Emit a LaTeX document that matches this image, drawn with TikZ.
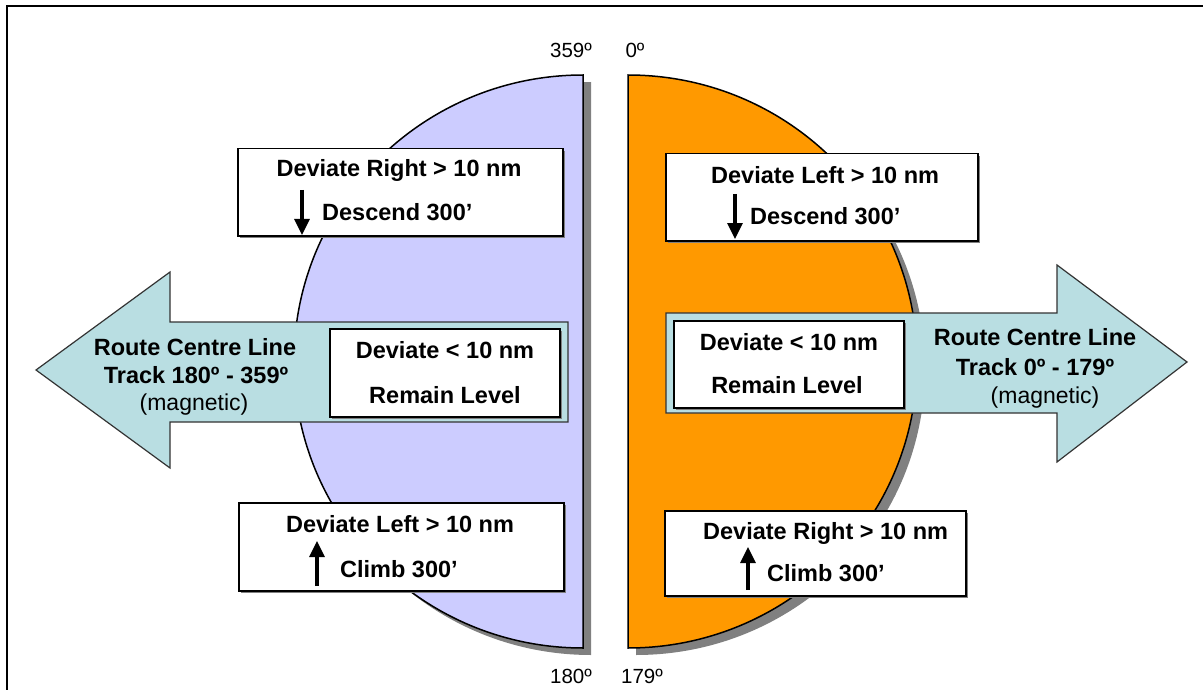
\documentclass[tikz,border=0pt]{standalone}
\usepackage{fontspec}
\setmainfont{Liberation Sans}
\usetikzlibrary{arrows.meta,shadows}
\definecolor{lavfill}{HTML}{CCCCFF}
\definecolor{orngfill}{HTML}{FF9900}
\definecolor{arrowfill}{HTML}{B9DEE2}
\definecolor{shadegray}{HTML}{808080}
\definecolor{edgegray}{HTML}{333333}
\def\lefthalf{(583,75) arc[start angle=-90,end angle=-270,x radius=289,y radius=286.5] -- cycle}
\def\righthalf{(628,75) arc[start angle=-90,end angle=90,x radius=289,y radius=286.5] -- cycle}
\begin{document}
\begin{tikzpicture}[x=1pt,y=-1pt,
  halfedge/.style={draw=black,line width=1.5pt},
  bigarrow/.style={fill=arrowfill,draw=edgegray,line width=1.2pt,line join=miter},
  infobox/.style={draw=black,line width=1.5pt,fill=white,inner sep=0pt,anchor=north west,
     drop shadow={shadow xshift=2pt,shadow yshift=-2pt,fill=shadegray,opacity=1}},
  btxt/.style={font=\fontsize{23.5}{27}\selectfont\bfseries,inner sep=0pt},
  rtxt/.style={font=\fontsize{23}{27}\selectfont,inner sep=0pt},
  deg/.style={font=\fontsize{20.5}{24}\selectfont,inner sep=0pt,anchor=base},
  updown/.style={line width=3.2pt,-{Triangle[length=16pt,width=15pt]}}]
\useasboundingbox (0,0) rectangle (1203,690);
\fill[white] (0,0) rectangle (1203,690);
\draw[line width=2.5pt] (7,690) -- (7,6) -- (1203,6);
% half discs with shadows
\fill[shadegray,shift={(8,7)}] \lefthalf;
\fill[shadegray,shift={(8,7)}] \righthalf;
\filldraw[fill=lavfill,halfedge] \lefthalf;
\filldraw[fill=orngfill,halfedge] \righthalf;
% degree labels
\node[deg] (d359) at (571,58) {359º};
\node[deg] (d0) at (635,58) {0º};
\node[deg] (d180) at (571,683) {180º};
\node[deg] (d179) at (642,683) {179º};
% top and bottom boxes
\node[infobox,minimum width=325pt,minimum height=87pt] (tl) at (237,148) {};
\node[btxt,anchor=base] (tl1) at (399,177) {Deviate Right > 10 nm};
\node[btxt,anchor=base west] (tl2) at (322,221) {Descend 300’};
\coordinate (tla) at (302,190); \coordinate (tlb) at (302,235);
\draw[updown] (tla) -- (tlb);

\node[infobox,minimum width=312pt,minimum height=87pt] (tr) at (665,153) {};
\node[btxt,anchor=base west] (tr1) at (711,183) {Deviate Left > 10 nm};
\node[btxt,anchor=base west] (tr2) at (750,225) {Descend 300’};
\coordinate (tra) at (735,194); \coordinate (trb) at (735,239);
\draw[updown] (tra) -- (trb);

\node[infobox,minimum width=325pt,minimum height=88pt] (bl) at (238,502) {};
\node[btxt,anchor=base] (bl1) at (400,532) {Deviate Left > 10 nm};
\node[btxt,anchor=base west] (bl2) at (340,577) {Climb 300’};
\coordinate (bla) at (317,586); \coordinate (blb) at (317,541);
\draw[updown] (bla) -- (blb);

\node[infobox,minimum width=301pt,minimum height=85pt] (br) at (664,510) {};
\node[btxt,anchor=base west] (br1) at (703,539) {Deviate Right > 10 nm};
\node[btxt,anchor=base west] (br2) at (767,581) {Climb 300’};
\coordinate (bra) at (748,590); \coordinate (brb) at (748,547);
\draw[updown] (bra) -- (brb);
% big arrows
\draw[bigarrow] (36,370) -- (170,272) -- (170,322) -- (568,322) -- (568,422) -- (170,422) -- (170,468) -- cycle;
\draw[bigarrow] (666,313) -- (1057,313) -- (1057,265) -- (1187,362) -- (1057,462) -- (1057,413) -- (666,413) -- cycle;
\node[btxt,anchor=base] (la1) at (195,355) {Route Centre Line};
\node[btxt,anchor=base] (la2) at (196,383) {Track 180º - 359º};
\node[rtxt,anchor=base] (la3) at (194,410) {(magnetic)};
\node[btxt,anchor=base] (ra1) at (1035,345) {Route Centre Line};
\node[btxt,anchor=base] (ra2) at (1035,375) {Track 0º - 179º};
\node[rtxt,anchor=base] (ra3) at (1045,403) {(magnetic)};
% boxes inside arrows
\node[infobox,minimum width=230pt,minimum height=88pt] (lm) at (329,328) {};
\node[btxt,anchor=base] (lm1) at (445,358) {Deviate < 10 nm};
\node[btxt,anchor=base] (lm2) at (445,403) {Remain Level};
\node[infobox,minimum width=230pt,minimum height=87pt] (rm) at (673,320) {};
\node[btxt,anchor=base] (rm1) at (789,350) {Deviate < 10 nm};
\node[btxt,anchor=base] (rm2) at (787,393) {Remain Level};
\end{tikzpicture}
\end{document}
